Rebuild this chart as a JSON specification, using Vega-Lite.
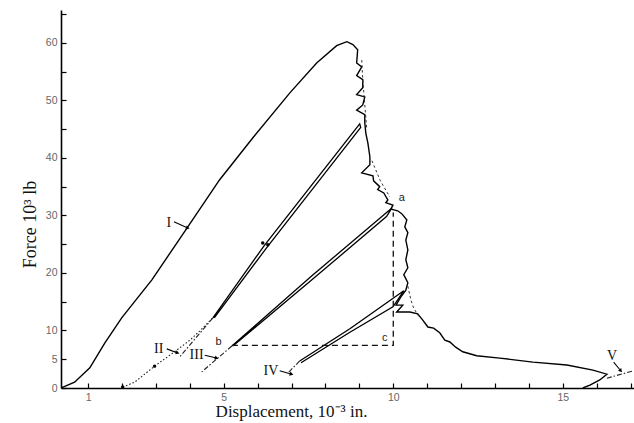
{
  "$schema": "https://vega.github.io/schema/vega-lite/v6.json",
  "width": 573,
  "height": 378,
  "autosize": {"type": "none"},
  "padding": {"left": 61, "top": 10, "right": 0, "bottom": 35},
  "background": "white",
  "config": {"view": {"stroke": null}},
  "datasets": {
    "mainCurve": [
      {"i": 1, "v": 0.2, "F": 0.0}, {"i": 2, "v": 0.6, "F": 1.0}, {"i": 3, "v": 1.05, "F": 3.5},
      {"i": 4, "v": 1.49, "F": 7.8}, {"i": 5, "v": 1.99, "F": 12.2}, {"i": 6, "v": 2.88, "F": 18.8},
      {"i": 7, "v": 3.94, "F": 28.0}, {"i": 8, "v": 4.88, "F": 36.2}, {"i": 9, "v": 5.86, "F": 43.5},
      {"i": 10, "v": 6.95, "F": 51.3}, {"i": 11, "v": 7.74, "F": 56.5}, {"i": 12, "v": 8.33, "F": 59.5},
      {"i": 13, "v": 8.63, "F": 60.2}, {"i": 14, "v": 8.81, "F": 59.7}, {"i": 15, "v": 8.95, "F": 58.8},
      {"i": 16, "v": 8.92, "F": 56.5}, {"i": 17, "v": 9.07, "F": 55.8}, {"i": 18, "v": 8.92, "F": 54.3},
      {"i": 19, "v": 9.1, "F": 53.6}, {"i": 20, "v": 9.1, "F": 52.2}, {"i": 21, "v": 8.92, "F": 51.0},
      {"i": 22, "v": 9.16, "F": 50.6}, {"i": 23, "v": 9.1, "F": 49.2}, {"i": 24, "v": 8.92, "F": 48.3},
      {"i": 25, "v": 9.16, "F": 47.5}, {"i": 26, "v": 9.16, "F": 46.1}, {"i": 27, "v": 9.19, "F": 44.3},
      {"i": 28, "v": 9.25, "F": 42.6}, {"i": 29, "v": 9.31, "F": 40.2}, {"i": 30, "v": 9.31, "F": 38.8},
      {"i": 31, "v": 9.07, "F": 37.4}, {"i": 32, "v": 9.4, "F": 36.9}, {"i": 33, "v": 9.42, "F": 36.0},
      {"i": 34, "v": 9.6, "F": 35.0}, {"i": 35, "v": 9.54, "F": 34.5}, {"i": 36, "v": 9.72, "F": 33.9},
      {"i": 37, "v": 9.84, "F": 32.7}, {"i": 38, "v": 9.78, "F": 32.2}, {"i": 39, "v": 9.99, "F": 31.8},
      {"i": 40, "v": 9.93, "F": 31.1}, {"i": 41, "v": 10.13, "F": 30.8}, {"i": 42, "v": 10.25, "F": 30.3},
      {"i": 43, "v": 10.4, "F": 29.2}, {"i": 44, "v": 10.34, "F": 28.0}, {"i": 45, "v": 10.43, "F": 27.0},
      {"i": 46, "v": 10.37, "F": 25.7}, {"i": 47, "v": 10.43, "F": 24.0}, {"i": 48, "v": 10.37, "F": 22.3},
      {"i": 49, "v": 10.43, "F": 20.9}, {"i": 50, "v": 10.31, "F": 19.7}, {"i": 51, "v": 10.43, "F": 18.3},
      {"i": 52, "v": 10.37, "F": 17.0}, {"i": 53, "v": 10.22, "F": 15.8}, {"i": 54, "v": 10.08, "F": 14.4},
      {"i": 55, "v": 10.28, "F": 14.4}, {"i": 56, "v": 10.1, "F": 13.2}, {"i": 57, "v": 10.49, "F": 13.2},
      {"i": 58, "v": 10.72, "F": 12.9}, {"i": 59, "v": 10.87, "F": 11.8}, {"i": 60, "v": 11.02, "F": 10.6},
      {"i": 61, "v": 11.19, "F": 10.4}, {"i": 62, "v": 11.37, "F": 9.6}, {"i": 63, "v": 11.52, "F": 8.3},
      {"i": 64, "v": 11.67, "F": 8.0}, {"i": 65, "v": 11.84, "F": 7.1}, {"i": 66, "v": 12.05, "F": 6.3},
      {"i": 67, "v": 12.46, "F": 5.6}, {"i": 68, "v": 13.14, "F": 5.2}, {"i": 69, "v": 14.12, "F": 4.5},
      {"i": 70, "v": 15.12, "F": 4.0}, {"i": 71, "v": 15.89, "F": 3.1}, {"i": 72, "v": 16.3, "F": 2.4},
      {"i": 73, "v": 16.09, "F": 1.4}, {"i": 74, "v": 15.8, "F": 0.5}, {"i": 75, "v": 15.59, "F": 0.0}
    ],
    "loops": [
      {"s": "II", "i": 1, "v": 4.68, "F": 12.2}, {"s": "II", "i": 2, "v": 6.2, "F": 24.8},
      {"s": "II", "i": 3, "v": 9.01, "F": 45.9}, {"s": "II", "i": 4, "v": 9.04, "F": 45.3},
      {"s": "II", "i": 5, "v": 6.28, "F": 24.5}, {"s": "II", "i": 6, "v": 4.72, "F": 12.2},
      {"s": "III", "i": 1, "v": 5.24, "F": 7.3}, {"s": "III", "i": 2, "v": 7.6, "F": 19.5},
      {"s": "III", "i": 3, "v": 9.96, "F": 31.3}, {"s": "III", "i": 4, "v": 9.8, "F": 29.8},
      {"s": "III", "i": 5, "v": 7.6, "F": 18.8}, {"s": "III", "i": 6, "v": 5.27, "F": 7.3},
      {"s": "IV", "i": 1, "v": 7.24, "F": 4.7}, {"s": "IV", "i": 2, "v": 8.72, "F": 10.3},
      {"s": "IV", "i": 3, "v": 10.31, "F": 16.9}, {"s": "IV", "i": 4, "v": 9.99, "F": 14.1},
      {"s": "IV", "i": 5, "v": 8.72, "F": 9.7}, {"s": "IV", "i": 6, "v": 7.28, "F": 4.4}
    ],
    "reload": [
      {"i": 1, "v": 2.02, "F": 0.17}, {"i": 2, "v": 2.37, "F": 1.0}, {"i": 3, "v": 2.96, "F": 3.8},
      {"i": 4, "v": 3.55, "F": 6.3}, {"i": 5, "v": 4.0, "F": 8.3}, {"i": 6, "v": 4.29, "F": 9.9},
      {"i": 7, "v": 4.68, "F": 12.2}
    ],
    "extensions": [
      {"s": "II", "i": 1, "v": 4.68, "F": 12.2}, {"s": "II", "i": 2, "v": 3.7, "F": 5.4},
      {"s": "III", "i": 1, "v": 5.24, "F": 7.3}, {"s": "III", "i": 2, "v": 4.35, "F": 2.8},
      {"s": "IV", "i": 1, "v": 7.24, "F": 4.7}, {"s": "IV", "i": 2, "v": 6.89, "F": 2.6},
      {"s": "V", "i": 1, "v": 16.3, "F": 1.7}, {"s": "V", "i": 2, "v": 17.09, "F": 3.0}
    ],
    "box": [
      {"i": 1, "v": 5.24, "F": 7.4}, {"i": 2, "v": 10.0, "F": 7.4}, {"i": 3, "v": 10.0, "F": 30.5}
    ],
    "envelope": [
      {"s": "top", "i": 1, "v": 9.07, "F": 57.0}, {"s": "top", "i": 2, "v": 9.1, "F": 53.6},
      {"s": "top", "i": 3, "v": 9.16, "F": 49.2}, {"s": "top", "i": 4, "v": 9.22, "F": 44.9},
      {"s": "mid", "i": 1, "v": 9.37, "F": 39.5}, {"s": "mid", "i": 2, "v": 9.62, "F": 36.0},
      {"s": "mid", "i": 3, "v": 9.9, "F": 33.2},
      {"s": "low", "i": 1, "v": 10.43, "F": 17.7}, {"s": "low", "i": 2, "v": 10.52, "F": 15.3},
      {"s": "low", "i": 3, "v": 10.6, "F": 13.9}, {"s": "low", "i": 4, "v": 10.78, "F": 12.2}
    ],
    "dots": [
      {"v": 6.15, "F": 25.2}, {"v": 6.3, "F": 24.9}, {"v": 2.96, "F": 3.8}, {"v": 2.02, "F": 0.17}
    ],
    "numerals": [
      {"t": "I", "v": 3.38, "F": 28.7}, {"t": "II", "v": 3.08, "F": 6.8}, {"t": "III", "v": 4.2, "F": 5.7},
      {"t": "IV", "v": 6.39, "F": 3.0}, {"t": "V", "v": 16.45, "F": 5.6}
    ],
    "points": [
      {"t": "a", "v": 10.25, "F": 33.1}, {"t": "b", "v": 4.85, "F": 8.0}, {"t": "c", "v": 9.75, "F": 8.7}
    ],
    "arrows": [
      {"t": "I", "v": 3.53, "F": 28.9, "v2": 3.94, "F2": 27.8},
      {"t": "II", "v": 3.32, "F": 6.8, "v2": 3.64, "F2": 6.1},
      {"t": "III", "v": 4.44, "F": 5.7, "v2": 4.79, "F2": 5.2},
      {"t": "IV", "v": 6.65, "F": 3.0, "v2": 7.0, "F2": 2.4},
      {"t": "V", "v": 16.5, "F": 4.5, "v2": 16.71, "F2": 3.0}
    ]
  },
  "encoding": {
    "x": {
      "field": "v", "type": "quantitative",
      "scale": {"domain": [0.2, 17.1], "nice": false, "zero": false},
      "axis": {
        "values": [1, 2, 3, 4, 5, 6, 7, 8, 9, 10, 11, 12, 13, 14, 15, 16, 17],
        "labelExpr": "indexof([1, 5, 10, 15], datum.value) >= 0 ? datum.label : ''",
        "grid": false,
        "domainColor": "#000", "domainWidth": 1.6,
        "tickColor": "#000", "tickWidth": 1.2, "tickSize": -5,
        "labelPadding": 9,
        "labelFont": "Liberation Sans", "labelFontSize": 10.5, "labelColor": "#666",
        "title": "Displacement, 10⁻³ in.",
        "titleFont": "Liberation Serif", "titleFontSize": 17, "titleFontWeight": "normal", "titleColor": "#111",
        "titleX": 230, "titleY": 28, "titleAlign": "center", "titleBaseline": "alphabetic"
      }
    },
    "y": {
      "field": "F", "type": "quantitative",
      "scale": {"domain": [0, 65.7], "nice": false, "zero": false},
      "axis": {
        "values": [0, 5, 10, 15, 20, 25, 30, 35, 40, 45, 50, 55, 60, 65],
        "labelExpr": "indexof([0, 5, 10, 20, 30, 40, 50, 60], datum.value) >= 0 ? datum.label : ''",
        "grid": false,
        "domainColor": "#000", "domainWidth": 1.6,
        "tickColor": "#000", "tickWidth": 1.2, "tickSize": -5,
        "labelPadding": 9,
        "labelFont": "Liberation Sans", "labelFontSize": 10.5, "labelColor": "#666",
        "title": "Force 10³ lb",
        "titleFont": "Liberation Serif", "titleFontSize": 18, "titleFontWeight": "normal", "titleColor": "#111",
        "titleX": -26, "titleY": 214, "titleAngle": -90, "titleAlign": "center", "titleBaseline": "alphabetic"
      }
    }
  },
  "layer": [
    {
      "data": {"name": "mainCurve"},
      "mark": {"type": "line", "color": "#000", "strokeWidth": 1.4, "clip": true},
      "encoding": {"order": {"field": "i", "type": "quantitative"}}
    },
    {
      "data": {"name": "loops"},
      "mark": {"type": "line", "color": "#000", "strokeWidth": 1.3, "clip": true},
      "encoding": {
        "detail": {"field": "s", "type": "nominal"},
        "order": {"field": "i", "type": "quantitative"}
      }
    },
    {
      "data": {"name": "reload"},
      "mark": {"type": "line", "color": "#222", "strokeWidth": 1.1, "strokeDash": [1.5, 2], "clip": true},
      "encoding": {"order": {"field": "i", "type": "quantitative"}}
    },
    {
      "data": {"name": "extensions"},
      "mark": {"type": "line", "color": "#222", "strokeWidth": 1.1, "strokeDash": [5, 2, 1.5, 2], "clip": true},
      "encoding": {
        "detail": {"field": "s", "type": "nominal"},
        "order": {"field": "i", "type": "quantitative"}
      }
    },
    {
      "data": {"name": "box"},
      "mark": {"type": "line", "color": "#111", "strokeWidth": 1.3, "strokeDash": [6, 4], "clip": true},
      "encoding": {"order": {"field": "i", "type": "quantitative"}}
    },
    {
      "data": {"name": "envelope"},
      "mark": {"type": "line", "color": "#333", "strokeWidth": 1, "strokeDash": [2.5, 2.5], "clip": true},
      "encoding": {
        "detail": {"field": "s", "type": "nominal"},
        "order": {"field": "i", "type": "quantitative"}
      }
    },
    {
      "data": {"name": "dots"},
      "mark": {"type": "circle", "color": "#000", "size": 12, "opacity": 1}
    },
    {
      "data": {"name": "arrows"},
      "mark": {"type": "rule", "color": "#000", "strokeWidth": 1.1},
      "encoding": {
        "x2": {"field": "v2"},
        "y2": {"field": "F2"}
      }
    },
    {
      "data": {"name": "arrows"},
      "transform": [{"filter": "datum.t != 'V'"}],
      "mark": {"type": "point", "shape": "triangle-right", "filled": true, "color": "#000", "size": 18, "angle": 18, "opacity": 1},
      "encoding": {
        "x": {"field": "v2", "type": "quantitative"},
        "y": {"field": "F2", "type": "quantitative"}
      }
    },
    {
      "data": {"name": "arrows"},
      "transform": [{"filter": "datum.t == 'V'"}],
      "mark": {"type": "point", "shape": "triangle-right", "filled": true, "color": "#000", "size": 18, "angle": 50, "opacity": 1},
      "encoding": {
        "x": {"field": "v2", "type": "quantitative"},
        "y": {"field": "F2", "type": "quantitative"}
      }
    },
    {
      "data": {"name": "numerals"},
      "mark": {"type": "text", "font": "Liberation Serif", "fontSize": 14, "color": "#111", "align": "center", "baseline": "middle"},
      "encoding": {"text": {"field": "t", "type": "nominal"}}
    },
    {
      "data": {"name": "points"},
      "mark": {"type": "text", "font": "Liberation Sans", "fontSize": 11, "color": "#222", "align": "center", "baseline": "middle"},
      "encoding": {"text": {"field": "t", "type": "nominal"}}
    }
  ]
}
